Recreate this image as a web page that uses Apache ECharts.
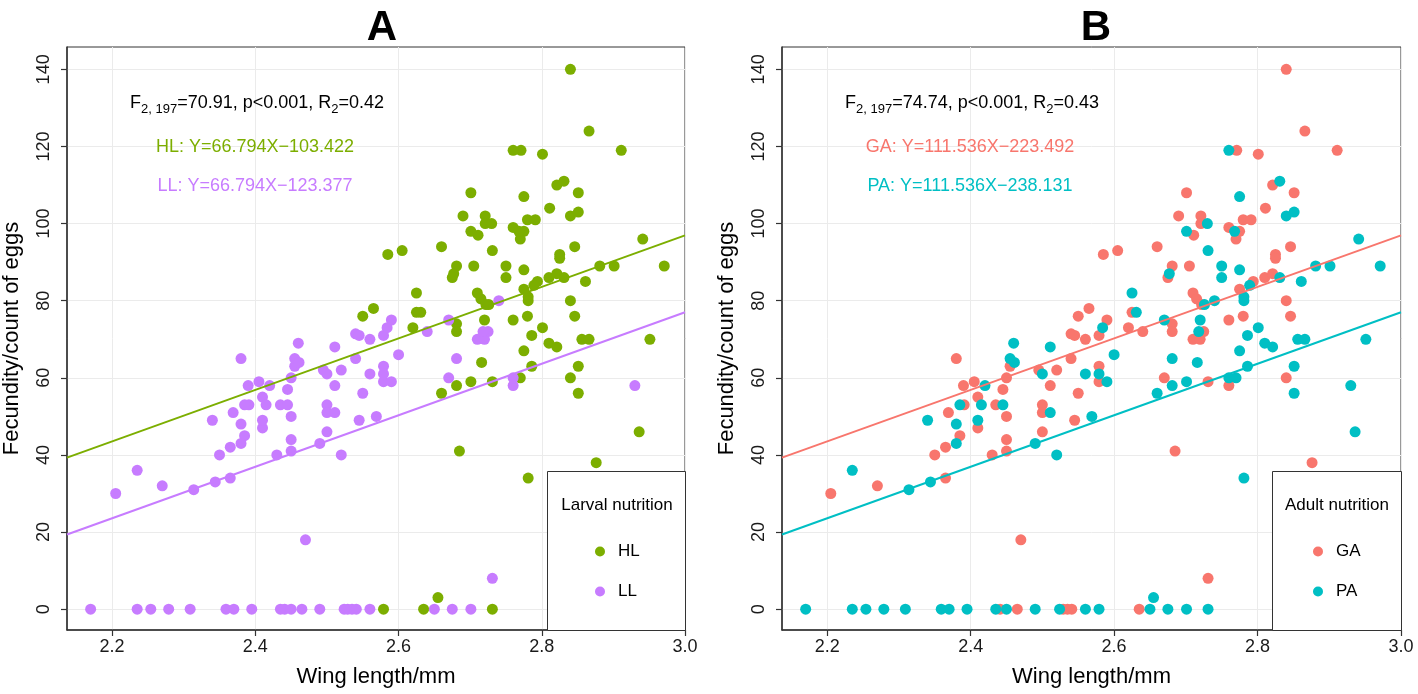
<!DOCTYPE html>
<html>
<head>
<meta charset="utf-8">
<script src="https://cdn.jsdelivr.net/npm/echarts@6/dist/echarts.min.js"></script>
<style>
html,body{margin:0;padding:0;background:#fff;}
#c{width:1418px;height:694px;}
</style>
</head>
<body>
<div id="c"></div>
<script>
// ---- data: [wing length (mm), egg count] grouped by larval x adult nutrition ----
const HL_GA = [[2.635,0],[2.550,76],[2.565,78],[2.840,140],[2.866,124],[2.911,119],[2.771,119],[2.801,118],[2.701,108],[2.821,110],[2.851,108],[2.811,104],[2.690,102],[2.721,102],[2.721,100],[2.780,101],[2.791,101],[2.760,99],[2.775,98],[2.770,96],[2.711,97],[2.585,92],[2.605,93],[2.660,94],[2.846,94],[2.825,92],[2.825,91],[2.681,89],[2.675,86],[2.705,89],[2.810,86],[2.821,87],[2.794,85],[2.775,83],[2.710,82],[2.715,80.5],[2.722,79],[2.840,80],[2.846,76],[2.625,77],[2.620,73],[2.681,74],[2.681,72],[2.760,75],[2.780,76],[2.840,60],[2.731,59],[2.685,41],[2.876,38]];
const HL_PA = [[2.579,0],[2.655,3],[2.731,0],[2.760,119],[2.775,107],[2.831,111],[2.730,100],[2.840,102],[2.851,103],[2.768,98],[2.701,98],[2.731,93],[2.941,96],[2.971,89],[2.881,89],[2.901,89],[2.677,87],[2.750,89],[2.750,86],[2.775,88],[2.831,86],[2.789,84],[2.861,85],[2.781,81],[2.781,80],[2.726,79],[2.625,82],[2.631,77],[2.720,75],[2.801,73],[2.786,71],[2.775,67],[2.786,63],[2.810,69],[2.821,68],[2.856,70],[2.866,70],[2.951,70],[2.851,63],[2.851,56],[2.770,60],[2.701,59],[2.681,58],[2.660,56],[2.716,64],[2.781,34],[2.936,46]];
const LL_GA = [[2.441,0],[2.465,0],[2.529,0],[2.535,0],[2.541,0],[2.731,8],[2.205,30],[2.270,32],[2.365,34],[2.350,40],[2.365,42],[2.385,45],[2.369,51],[2.391,53],[2.380,65],[2.390,58],[2.405,59],[2.410,55],[2.410,47],[2.430,40],[2.435,53],[2.445,57],[2.450,50],[2.450,44],[2.450,41],[2.450,60],[2.455,63],[2.470,18],[2.500,46],[2.500,53],[2.500,51],[2.495,62],[2.511,58],[2.520,62],[2.540,71.4],[2.545,71],[2.540,65],[2.550,56],[2.545,49],[2.560,70],[2.590,75],[2.579,71],[2.640,72],[2.710,70],[2.720,70],[2.725,72],[2.579,63],[2.579,59],[2.670,60],[2.760,58]];
const LL_PA = [[2.170,0],[2.235,0],[2.254,0],[2.279,0],[2.309,0],[2.359,0],[2.370,0],[2.395,0],[2.435,0],[2.450,0],[2.490,0],[2.524,0],[2.560,0],[2.650,0],[2.675,0],[2.701,0],[2.235,36],[2.314,31],[2.344,33],[2.380,43],[2.380,48],[2.340,49],[2.385,53],[2.420,58],[2.415,53],[2.410,49],[2.445,53],[2.455,65],[2.461,64],[2.460,69],[2.490,43],[2.511,51],[2.500,61],[2.511,68],[2.520,40],[2.560,61],[2.569,50],[2.584,73],[2.670,75],[2.740,80],[2.600,66],[2.579,61],[2.590,59],[2.681,65],[2.760,60],[2.930,58],[2.718,72]];

// fitted lines (slope, intercept) as drawn in each panel
const lineHL = [66.794, -103.422];
const lineLL = [66.794, -123.377];
const lineGA = [66.794, -103.422];
const linePA = [66.794, -123.377];

const xTicks = [2.2, 2.4, 2.6, 2.8, 3.0];
const yTicks = [0, 20, 40, 60, 80, 100, 120, 140];
const xRange = [2.137, 3.0];
const yRange = [-5.4, 145.8];

const C = {HL:'#7CAE00', LL:'#C77CFF', GA:'#F8766D', PA:'#00BFC4'};
const FONT = '"Liberation Sans", Arial, Helvetica, sans-serif';

function linePts(c){ return [[xRange[0], c[0]*xRange[0]+c[1]], [xRange[1], c[0]*xRange[1]+c[1]]]; }

const grids = [
  {left:67, top:47, width:618, height:583, show:true, borderColor:'#333', borderWidth:1, backgroundColor:'#fff'},
  {left:782, top:47, width:619, height:583, show:true, borderColor:'#333', borderWidth:1, backgroundColor:'#fff'}
];

function xAx(i){
  return {gridIndex:i, type:'value', min:xRange[0], max:xRange[1],
    name:'Wing length/mm', nameLocation:'middle', nameGap:36,
    nameTextStyle:{fontFamily:FONT, fontSize:22, color:'#000'},
    axisLine:{onZero:false, lineStyle:{color:'#333', width:1.5}},
    axisTick:{show:true, length:6, lineStyle:{color:'#333', width:1.2}, customValues:xTicks},
    axisLabel:{customValues:xTicks, fontFamily:FONT, fontSize:18, color:'#1a1a1a', margin:8, formatter:v=>Number(v).toFixed(1)},
    splitLine:{show:true, lineStyle:{color:'#EBEBEB', width:1}}};
}
function yAx(i){
  return {gridIndex:i, type:'value', min:yRange[0], max:yRange[1],
    name:'Fecundity/count of eggs', nameLocation:'middle', nameGap:44,
    nameTextStyle:{fontFamily:FONT, fontSize:22, color:'#000'},
    axisLine:{onZero:false, lineStyle:{color:'#333', width:1.5}},
    axisTick:{show:true, length:6, lineStyle:{color:'#333', width:1.2}, customValues:yTicks},
    axisLabel:{customValues:yTicks, rotate:90, fontFamily:FONT, fontSize:18, color:'#1a1a1a', margin:14},
    splitLine:{show:true, lineStyle:{color:'#EBEBEB', width:1}}};
}

function scatter(name, data, i, color){
  return {name:name, type:'scatter', xAxisIndex:i, yAxisIndex:i, data:data, symbol:'circle', symbolSize:11,
    itemStyle:{color:color, opacity:1}, emphasis:{disabled:true}, z:2};
}
function fit(name, coef, i, color){
  return {name:name, type:'line', xAxisIndex:i, yAxisIndex:i, data:linePts(coef), symbol:'none',
    lineStyle:{color:color, width:2}, emphasis:{disabled:true}, z:3, silent:true, clip:true};
}

const HL = HL_GA.concat(HL_PA), LL = LL_GA.concat(LL_PA);
const GA = HL_GA.concat(LL_GA), PA = HL_PA.concat(LL_PA);

function statText(x, y, fval, r2){
  return {type:'text', left:x, top:y, z:12, style:{
    text:'{m|F}{s|2, 197}{m|='+fval+', p<0.001, R}{s|2}{m|='+r2+'}',
    rich:{m:{fontFamily:FONT, fontSize:18, fill:'#000', verticalAlign:'bottom'},
          s:{fontFamily:FONT, fontSize:13, fill:'#000', verticalAlign:'bottom', padding:[0,0,-4,0]}},
    fill:'#000'}};
}
function eqText(cx, cy, txt, color){
  return {type:'text', x:cx, y:cy, z:12, style:{text:txt, fontFamily:FONT, fontSize:18, fill:color, align:'center', verticalAlign:'middle'}};
}

const option = {
  animation:false,
  backgroundColor:'#fff',
  title:[
    {text:'A', left:377, top:2, textAlign:'center', textStyle:{fontFamily:FONT, fontSize:42, fontWeight:'bold', color:'#000'}},
    {text:'B', left:1091, top:2, textAlign:'center', textStyle:{fontFamily:FONT, fontSize:42, fontWeight:'bold', color:'#000'}}
  ],
  grid:grids,
  xAxis:[xAx(0), xAx(1)],
  yAxis:[yAx(0), yAx(1)],
  legend:[
    {data:['HL','LL'], orient:'vertical', left:595, top:543, padding:0, itemWidth:10, itemHeight:10, itemGap:23, z:30,
     icon:'circle', textStyle:{fontFamily:FONT, fontSize:17, color:'#000', padding:[0,0,0,8]}, selectedMode:false},
    {data:['GA','PA'], orient:'vertical', left:1313, top:543, padding:0, itemWidth:10, itemHeight:10, itemGap:23, z:30,
     icon:'circle', textStyle:{fontFamily:FONT, fontSize:17, color:'#000', padding:[0,0,0,8]}, selectedMode:false}
  ],
  graphic:[
    {type:'rect', shape:{x:547.5, y:471.5, width:138, height:159}, style:{fill:'#fff', stroke:'#333', lineWidth:1}, z:10},
    {type:'text', x:617, y:505, style:{text:'Larval nutrition', fontFamily:FONT, fontSize:17, fill:'#000', align:'center', verticalAlign:'middle'}, z:11},
    {type:'rect', shape:{x:1272.5, y:471.5, width:129, height:159}, style:{fill:'#fff', stroke:'#333', lineWidth:1}, z:10},
    {type:'text', x:1337, y:505, style:{text:'Adult nutrition', fontFamily:FONT, fontSize:17, fill:'#000', align:'center', verticalAlign:'middle'}, z:11},
    statText(130, 94, '70.91', '0.42'),
    statText(845, 94, '74.74', '0.43'),
    eqText(255, 147, 'HL: Y=66.794X\u2212103.422', C.HL),
    eqText(255, 186, 'LL: Y=66.794X\u2212123.377', C.LL),
    eqText(970, 147, 'GA: Y=111.536X\u2212223.492', C.GA),
    eqText(970, 186, 'PA: Y=111.536X\u2212238.131', C.PA)
  ],
  series:[
    scatter('HL', HL, 0, C.HL),
    scatter('LL', LL, 0, C.LL),
    fit('HL fit', lineHL, 0, C.HL),
    fit('LL fit', lineLL, 0, C.LL),
    scatter('GA', GA, 1, C.GA),
    scatter('PA', PA, 1, C.PA),
    fit('GA fit', lineGA, 1, C.GA),
    fit('PA fit', linePA, 1, C.PA)
  ]
};
const chart = echarts.init(document.getElementById('c'), null, {renderer:'canvas'});
chart.setOption(option);
</script>
</body>
</html>
